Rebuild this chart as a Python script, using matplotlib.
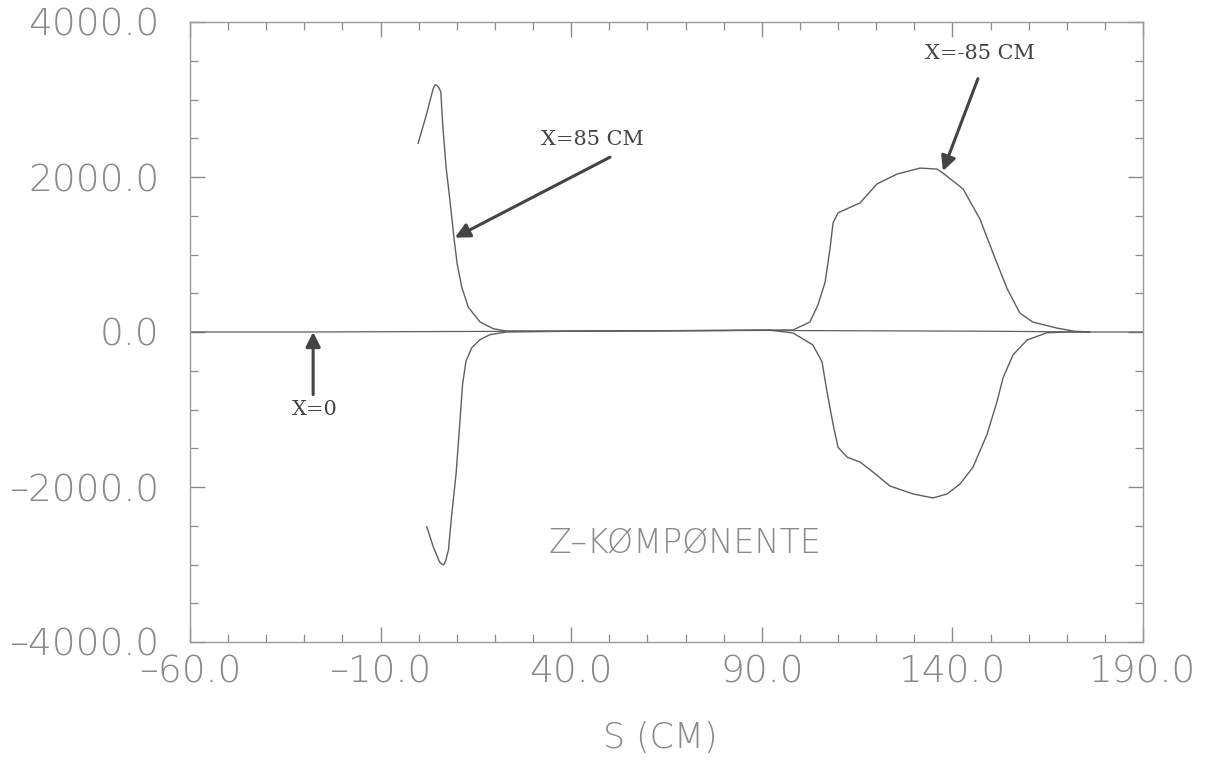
import matplotlib
matplotlib.use("Agg")
import matplotlib.pyplot as plt
from matplotlib.ticker import MultipleLocator, FuncFormatter

# ---- data ----
s_x0 = [-60, -30, 0, 20, 50, 90, 120, 150, 175, 190]
bz_x0 = [0, 0, 5, 8, 15, 20, 15, 10, 0, 0]

s_p85 = [-0.15, 2.1, 3.8, 4.3, 4.7, 5.3, 5.8, 6.3, 7.2, 8.2, 9.3, 10.1, 11.3, 13.0, 16.1, 19.6, 23.1,
         40, 60, 80, 92, 98.2, 103.4, 105.8, 107.1, 108.7, 110.0, 112.4, 115.8, 119.2,
         123.6, 129.7, 134.9, 138.6, 142.0, 145.4, 149.1, 151.7, 153.3, 155.9, 159.6,
         164.8, 170, 176]
bz_p85 = [2435, 2820, 3141, 3190, 3183, 3150, 3098, 2670, 2115, 1692, 1192, 875, 577, 320, 128, 42, 12,
          10, 15, 20, 25, -13, -167, -385, -769, -1192, -1487, -1615, -1679, -1808,
          -1987, -2090, -2141, -2090, -1961, -1744, -1320, -897, -590, -295, -103,
          -10, 0, 0]

s_m85 = [2.1, 3.8, 5.4, 6.0, 6.5, 7.1, 7.8, 8.6, 9.8, 10.7, 11.5, 12.4, 13.9, 16.1, 18.7, 23.1,
         40, 60, 80, 92, 98.2, 102.6, 104.7, 106.6, 107.9, 108.7, 110.0, 115.8, 120.2,
         125.5, 131.5, 136.0, 137.5, 142.8, 147.2, 150.6, 154.3, 157.7, 161.1, 167.4,
         172, 176]
bz_m85 = [-2512, -2769, -2961, -2995, -3003, -2950, -2811, -2384, -1829, -1230, -675, -376, -205, -98,
          -34, 0, 10, 15, 20, 25, 26, 128, 346, 641, 1077, 1410, 1538, 1667, 1910,
          2038, 2115, 2102, 2051, 1846, 1461, 1026, 564, 244, 128, 51, 10, 0]

x_ticks = [-60, -10, 40, 90, 140, 190]
y_ticks = [-4000, -2000, 0, 2000, 4000]

# ---- figure ----
W, H = 1231, 764
fig = plt.figure(figsize=(W / 100, H / 100), dpi=100)
L, R, T, B = 190, 1143, 22, 642
ax = fig.add_axes([L / W, 1 - B / H, (R - L) / W, (B - T) / H])

line_col = "#5e5e5e"
ax.plot(s_x0, bz_x0, color=line_col, lw=0.9)
ax.plot(s_p85, bz_p85, color=line_col, lw=1.0)
ax.plot(s_m85, bz_m85, color=line_col, lw=1.0)

ax.set_xlim(-60, 190)
ax.set_ylim(-4000, 4000)
ax.set_xticks(x_ticks)
ax.set_yticks(y_ticks)
ax.xaxis.set_minor_locator(MultipleLocator(10))
ax.yaxis.set_minor_locator(MultipleLocator(500))
fmt = FuncFormatter(lambda v, p: f"{v:.1f}".replace("-", "\u2013"))
ax.xaxis.set_major_formatter(fmt)
ax.yaxis.set_major_formatter(fmt)

tick_col = "#8a8a8a"
for sp in ax.spines.values():
    sp.set_color("#9a9a9a")
    sp.set_linewidth(1.0)
ax.tick_params(which="both", direction="in", top=True, right=True,
               color="#8a8a8a", labelcolor=tick_col, labelsize=27)
ax.tick_params(which="major", length=11, width=1.0)
ax.tick_params(which="minor", length=6, width=0.9)
ax.tick_params(axis="y", pad=22)
ax.tick_params(axis="x", pad=9)
for lab in ax.get_xticklabels() + ax.get_yticklabels():
    lab.set_fontweight("light")

# annotations
ann_font = dict(family="DejaVu Serif", fontsize=15, color="#444444")
arrow = dict(arrowstyle="-|>", lw=2.2, color="#444444", mutation_scale=22,
             shrinkA=0, shrinkB=0)
ax.annotate("", xy=(9.5, 1218), xytext=(50.2, 2256), arrowprops=arrow)
ax.text(45.5, 2487, "X=85 CM", ha="center", va="center", **ann_font)
ax.annotate("", xy=(137.5, 2077), xytext=(146.7, 3269), arrowprops=arrow)
ax.text(147.2, 3590, "X=-85 CM", ha="center", va="center", **ann_font)
ax.annotate("", xy=(-27.7, 0), xytext=(-27.7, -808), arrowprops=arrow)
ax.text(-27.2, -1000, "X=0", ha="center", va="center", **ann_font)

ax.text(69.9, -2723, "Z\u2013KØMPØNENTE", ha="center", va="center",
        fontsize=24, color=tick_col, fontweight="light")
fig.text(660 / W, 1 - 738 / H, "S (CM)", ha="center", va="center",
         fontsize=25, color=tick_col, fontweight="light")

fig.savefig("out.png", dpi=100)
